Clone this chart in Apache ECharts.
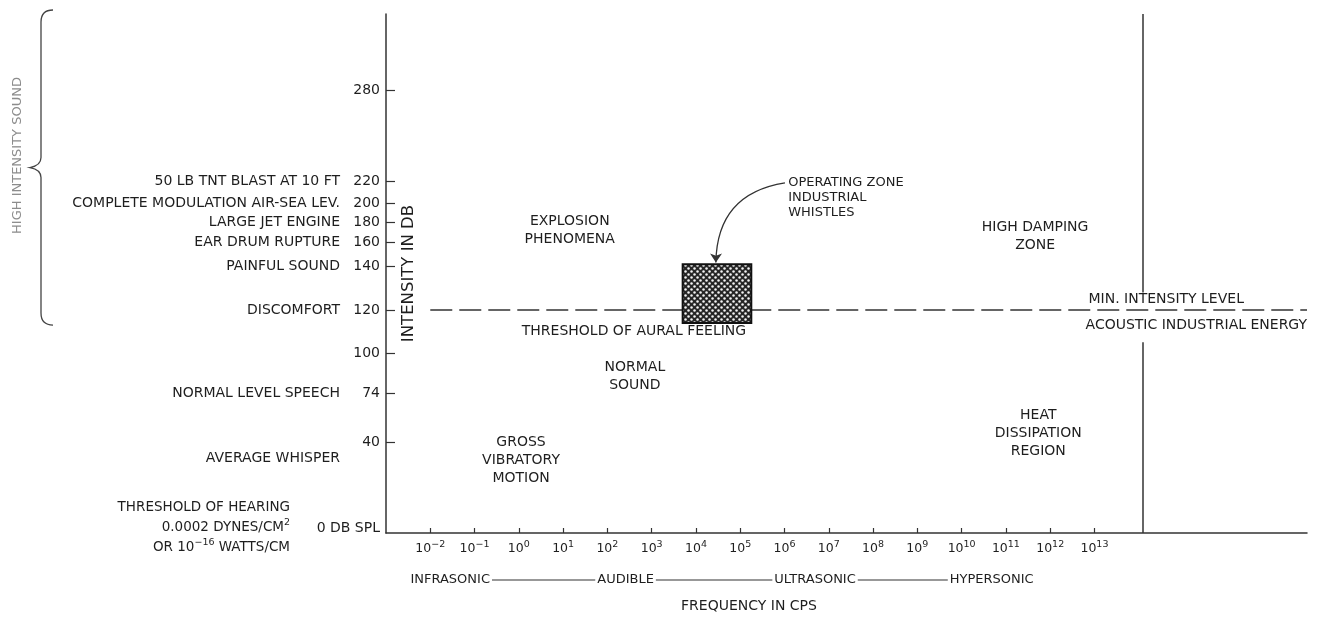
<!DOCTYPE html>
<html><head><meta charset="utf-8">
<script src="https://cdn.jsdelivr.net/npm/echarts@6/dist/echarts.min.js"></script>
<style>html,body{margin:0;padding:0;background:#fff}#c{width:1322px;height:617px}</style>
</head><body><div id="c"></div><script>
// ---------- data ----------
// y axis: intensity in dB on the drawing's own non-linear hand-made scale
const dbTicks = [0, 40, 74, 100, 120, 140, 160, 180, 200, 220, 280];
// share of the axis height at which the drawing places each dB tick
const dbTickShare = [0, 17.53, 26.97, 34.68, 42.97, 51.45, 55.93, 59.92, 63.58, 67.69, 85.36];

const levelNames = ['50 LB TNT BLAST AT 10 FT', 'COMPLETE MODULATION AIR-SEA LEV.', 'LARGE JET ENGINE',
  'EAR DRUM RUPTURE', 'PAINFUL SOUND', 'DISCOMFORT', 'NORMAL LEVEL SPEECH', 'AVERAGE WHISPER'];
const levelDb = [220, 200, 180, 160, 140, 120, 74, 33];
const hearingDb = 2.4;

// x axis: exponent of frequency in cps (10^n)
const freqExp = [-2, -1, 0, 1, 2, 3, 4, 5, 6, 7, 8, 9, 10, 11, 12, 13];
const expMin = -3, expMax = 17.8;

const bandNames = ['INFRASONIC', 'AUDIBLE', 'ULTRASONIC', 'HYPERSONIC'];
const bandExp = [-1.55, 2.41, 6.69, 10.68];

const regionNames = ['EXPLOSION\nPHENOMENA', 'THRESHOLD OF AURAL FEELING', 'NORMAL\nSOUND', 'GROSS\nVIBRATORY\nMOTION',
  'HIGH DAMPING\nZONE', 'HEAT\nDISSIPATION\nREGION', 'MIN. INTENSITY LEVEL', 'ACOUSTIC INDUSTRIAL ENERGY'];
const regionExp = [1.15, 2.60, 2.62, 0.05, 11.66, 11.73, 14.62, 15.30];
const regionDb = [172, 110, 85, 32, 166.5, 46, 125, 113];

const feelingDb = 120, feelingFromExp = -2;
const whistleExp = [3.7, 5.25], whistleDb = [114, 141.5];
const whistleNote = 'OPERATING ZONE\nINDUSTRIAL\nWHISTLES', whistleNoteExp = 6.06, whistleNoteDb = 204.7;
const arrowFrom = [6.01, 218.8], arrowTo = [4.45, 143];
const dampingExp = 14.1, dampingGapDb = [105, 128];
const braceDb = 113;

// ---------- helpers ----------
const FONT = 'DejaVu Sans';
const INK = '#1e1e1e';
function pos(db) {
  for (let i = 1; i < dbTicks.length; i++) {
    if (db <= dbTicks[i]) {
      const t = (db - dbTicks[i - 1]) / (dbTicks[i] - dbTicks[i - 1]);
      return dbTickShare[i - 1] + t * (dbTickShare[i] - dbTickShare[i - 1]);
    }
  }
  const n = dbTicks.length - 1;
  return dbTickShare[n] + (db - dbTicks[n]) * (dbTickShare[n] - dbTickShare[n - 1]) / (dbTicks[n] - dbTicks[n - 1]);
}
function nearest(arr, v) { let b = 0; arr.forEach((a, i) => { if (Math.abs(a - v) < Math.abs(arr[b] - v)) b = i; }); return b; }
const mctx = document.createElement('canvas').getContext('2d');
function measure(t, size) { mctx.font = size + 'px ' + FONT; return mctx.measureText(t).width; }

const pat = document.createElement('canvas'); pat.width = 6; pat.height = 6;
(function () { const g = pat.getContext('2d'); g.fillStyle = '#262626'; g.fillRect(0, 0, 6, 6); g.fillStyle = '#f4f4f4';
  [[1.5, 1.5], [4.5, 4.5]].forEach(p => { g.beginPath(); g.arc(p[0], p[1], 1.25, 0, Math.PI * 2); g.fill(); }); })();

const levelPos = levelDb.map(pos);
const supStr = v => (v < 0 ? '−' + (-v) : String(v));
const txt = (x, y, text, size, color) => ({ type: 'text', x: x, y: y,
  style: { text: text, fill: color || INK, fontSize: size, fontFamily: FONT, align: 'center', verticalAlign: 'middle', lineHeight: 18 } });

const chart = echarts.init(document.getElementById('c'));
chart.setOption({
  animation: false,
  backgroundColor: '#fff',
  grid: { left: 386, right: 15, top: 14, bottom: 84, containLabel: false, outerBoundsMode: 'none' },
  xAxis: {
    type: 'value', min: expMin, max: expMax,
    axisLine: { show: true, onZero: false, lineStyle: { color: '#333', width: 1.5 } },
    axisTick: { show: true, inside: true, length: 5, customValues: freqExp, lineStyle: { color: '#333', width: 1.2 } },
    splitLine: { show: false },
    axisLabel: {
      customValues: freqExp, margin: 7, color: INK, fontFamily: FONT,
      formatter: v => '{a|10}{b|' + supStr(Math.round(v)) + '}',
      rich: { a: { fontSize: 12.5, lineHeight: 18, fontFamily: FONT, color: INK },
              b: { fontSize: 9.5, lineHeight: 9, verticalAlign: 'top', fontFamily: FONT, color: INK } }
    },
    name: 'FREQUENCY IN CPS', nameLocation: 'middle', nameGap: 66, nameMoveOverlap: false,
    nameTextStyle: { fontSize: 14, fontFamily: FONT, color: INK, padding: [0, 195, 0, 0] }
  },
  yAxis: [{
    type: 'value', min: 0, max: 100, position: 'left',
    axisLine: { show: true, onZero: false, lineStyle: { color: '#333', width: 1.5 } },
    axisTick: { show: true, inside: true, length: 9, customValues: dbTickShare.slice(1), lineStyle: { color: '#333', width: 1.2 } },
    splitLine: { show: false },
    axisLabel: {
      customValues: dbTickShare, margin: 6, fontSize: 14, fontFamily: FONT, color: INK,
      formatter: v => { const t = dbTicks[nearest(dbTickShare, v)]; return t === 0 ? '{z|0 DB SPL}' : String(t); },
      rich: { z: { fontSize: 14, fontFamily: FONT, color: INK, padding: [0, 0, 10, 0] } }
    },
    name: 'INTENSITY IN DB', nameLocation: 'middle', nameGap: -31, nameRotate: 90, nameMoveOverlap: false,
    nameTextStyle: { fontSize: 16.5, fontFamily: FONT, color: INK }
  }, {
    type: 'value', min: 0, max: 100, position: 'left', offset: 38,
    axisLine: { show: false, onZero: false }, axisTick: { show: false }, splitLine: { show: false },
    axisLabel: {
      customValues: levelPos, margin: 8, fontSize: 14, fontFamily: FONT, color: INK,
      formatter: v => levelNames[nearest(levelPos, v)]
    }
  }, {
    type: 'value', min: 0, max: 100, position: 'left', offset: 88,
    axisLine: { show: false, onZero: false }, axisTick: { show: false }, splitLine: { show: false },
    axisLabel: {
      customValues: [pos(hearingDb)], margin: 8, fontFamily: FONT, color: INK,
      formatter: () => '{n|THRESHOLD OF HEARING}\n{n|0.0002 DYNES/CM}{s|2}\n{n|OR 10}{s|−16}{n| WATTS/CM}',
      rich: { n: { fontSize: 13.5, lineHeight: 20, fontFamily: FONT, color: INK },
              s: { fontSize: 9.5, lineHeight: 9, verticalAlign: 'top', fontFamily: FONT, color: INK } }
    }
  }],
  series: [
    { // threshold of aural feeling (dashed)
      type: 'line', symbol: 'none', z: 2, silent: true,
      data: [[feelingFromExp, pos(feelingDb)], [expMax, pos(feelingDb)]],
      lineStyle: { color: '#333', width: 1.6, type: [22, 7] }
    },
    { // damping boundary
      type: 'lines', coordinateSystem: 'cartesian2d', z: 2, silent: true,
      lineStyle: { color: '#333', width: 1.5, curveness: 0, opacity: 1 },
      data: [{ coords: [[dampingExp, 0], [dampingExp, pos(dampingGapDb[0])]] },
             { coords: [[dampingExp, pos(dampingGapDb[1])], [dampingExp, 100]] }]
    },
    { // arrow to the operating zone
      type: 'lines', coordinateSystem: 'cartesian2d', z: 4, silent: true,
      symbol: ['none', 'arrow'], symbolSize: 9,
      lineStyle: { color: '#333', width: 1.3, curveness: -0.42, opacity: 1 },
      data: [{ coords: [[arrowFrom[0], pos(arrowFrom[1])], [arrowTo[0], pos(arrowTo[1])]] }]
    },
    { // operating zone box
      type: 'custom', z: 5, silent: true,
      data: [[whistleExp[0], whistleExp[1], pos(whistleDb[0]), pos(whistleDb[1])]],
      renderItem: (p, api) => {
        const a = api.coord([api.value(0), api.value(3)]);
        const b = api.coord([api.value(1), api.value(2)]);
        return { type: 'rect', shape: { x: a[0], y: a[1], width: b[0] - a[0], height: b[1] - a[1] },
                 style: { fill: { image: pat, repeat: 'repeat' }, stroke: '#111', lineWidth: 2 } };
      }
    },
    { // region texts
      type: 'custom', z: 6, clip: false, silent: true,
      data: regionNames.map((n, i) => [regionExp[i], pos(regionDb[i])]).concat([[whistleNoteExp, pos(whistleNoteDb)]]),
      renderItem: (p, api) => {
        const c = api.coord([api.value(0), api.value(1)]);
        const i = p.dataIndex;
        if (i < regionNames.length) return txt(c[0], c[1], regionNames[i], 14);
        const t = txt(c[0] + 1, c[1], whistleNote, 13);
        t.style.align = 'left'; t.style.lineHeight = 15;
        return t;
      }
    },
    { // frequency bands row
      type: 'custom', clip: false, z: 6, silent: true,
      data: bandExp.map(v => [v, 0]),
      renderItem: (p, api) => {
        const i = p.dataIndex;
        const x = api.coord([bandExp[i], 0])[0];
        const y = api.coord([expMin, 0])[1] + 47;
        const kids = [txt(x, y, bandNames[i], 13)];
        if (i < bandExp.length - 1) {
          const x2 = api.coord([bandExp[i + 1], 0])[0];
          kids.push({ type: 'line', shape: { x1: x + measure(bandNames[i], 13) / 2 + 2, y1: y, x2: x2 - measure(bandNames[i + 1], 13) / 2 - 2, y2: y },
                      style: { stroke: '#333', lineWidth: 1.2 } });
        }
        return { type: 'group', children: kids };
      }
    },
    { // brace for high intensity sound
      type: 'custom', clip: false, z: 6, silent: true,
      data: [[expMin, pos(braceDb)]],
      renderItem: (p, api) => {
        const xg = api.coord([expMin, 0])[0];
        const yb = api.coord([expMin, pos(braceDb)])[1];
        const yt = api.coord([expMin, 100])[1] - 4;
        const m = (yt + yb) / 2, bx = xg - 345;
        const d = `M${bx + 12} ${yt} Q${bx} ${yt} ${bx} ${yt + 12} L${bx} ${m - 10} Q${bx} ${m - 2} ${bx - 11} ${m} ` +
                  `Q${bx} ${m + 2} ${bx} ${m + 10} L${bx} ${yb - 12} Q${bx} ${yb} ${bx + 12} ${yb}`;
        const cap = txt(bx - 23, m - 12, 'HIGH INTENSITY SOUND', 13, '#8c8c8c');
        cap.rotation = Math.PI / 2;
        return { type: 'group', children: [
          { type: 'path', shape: { pathData: d }, style: { stroke: '#444', lineWidth: 1.3, fill: null } },
          cap
        ] };
      }
    }
  ]
});
</script></body></html>
